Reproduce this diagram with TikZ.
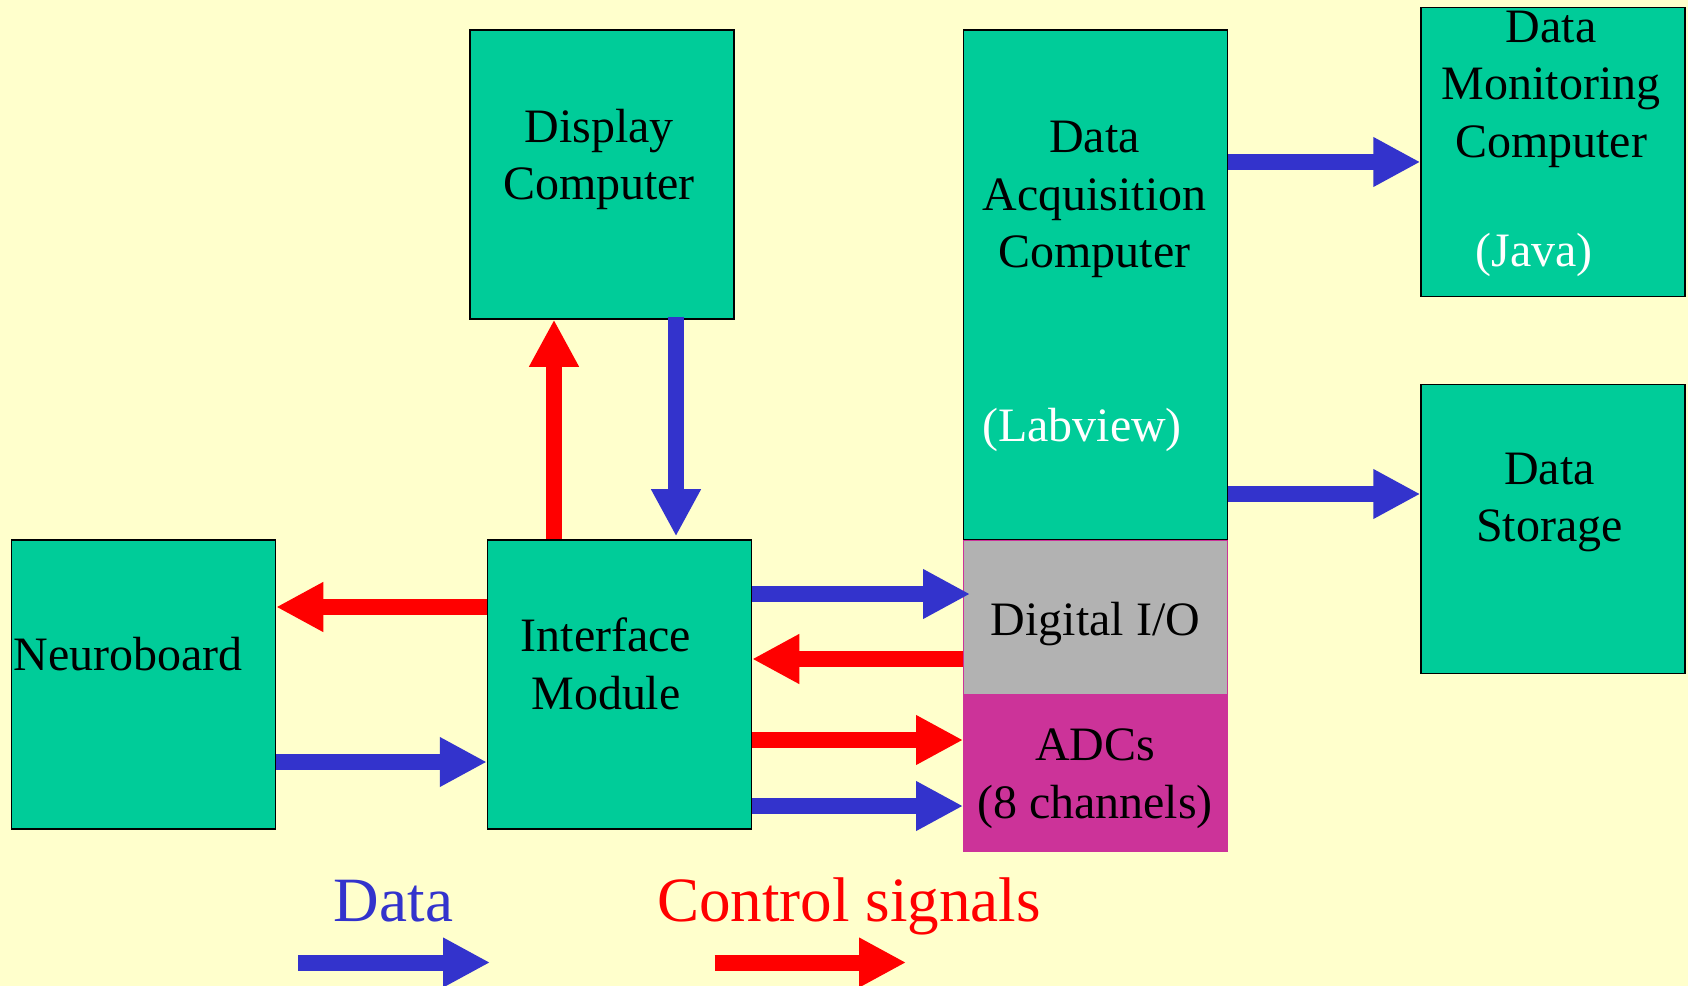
\documentclass[tikz,border=0pt]{standalone}
\usepackage{fontspec}
\setmainfont{Liberation Serif}
\usetikzlibrary{arrows.meta}
\definecolor{bgyellow}{HTML}{FFFFCC}
\definecolor{boxgreen}{HTML}{00CC99}
\definecolor{diogray}{HTML}{B2B2B2}
\definecolor{adcpink}{HTML}{CC3399}
\definecolor{datablue}{HTML}{3333CC}
\definecolor{ctrlred}{HTML}{FF0000}
\tikzset{block/.style = {shape=rectangle,draw=black,line width=0.3mm,fill=boxgreen,minimum width=52.8mm,minimum height=57.8mm,inner sep=0pt}}
\tikzset{txt/.style = {font=\fontsize{27.3}{32.7}\selectfont,align=center,anchor=base,inner sep=0pt}}
\tikzset{legend/.style = {font=\fontsize{35.9}{40}\selectfont,anchor=base,inner sep=0pt}}
\tikzset{dataarrow/.style = {draw=datablue,line width=3.2mm,-{Triangle[width=9.4mm,length=9.4mm]}}}
\tikzset{ctrlarrow/.style = {draw=ctrlred,line width=3.2mm,-{Triangle[width=9.4mm,length=9.4mm]}}}

\begin{document}
\begin{tikzpicture}[x=0.2mm,y=-0.2mm]
            \fill[bgyellow] (0,0) rectangle (1688,986);
            \useasboundingbox (0,0) rectangle (1688,986);

            % Blocks
            \node[block] (disp) at (602,174.5) {};
            \node[block,minimum height=102mm] (daq) at (1095.5,285) {};
            \node[block] (dmc) at (1553,152) {};
            \node[block] (store) at (1553,529) {};
            \node[block] (nb) at (143.5,684.5) {};
            \node[block] (im) at (619.5,684.5) {};
            \node[block,fill=diogray,draw=adcpink,line width=0.2mm,minimum height=30.8mm] (dio) at (1095.5,617) {};
            \node[block,fill=adcpink,draw=adcpink,line width=0.2mm,minimum height=31.4mm] (adc) at (1095.5,772.5) {};

            % Texts (base = last line)
            \node[txt] (displ) at (599,200) {Display\\Computer};
            \node[txt] (daql) at (1094.5,267.7) {Data\\Acquisition\\Computer};
            \node[txt,text=white] (daqsw) at (1082,441) {(Labview)};
            \node[txt] (dmcl) at (1551,157.3) {Data\\Monitoring\\Computer};
            \node[txt,text=white] (dmcsw) at (1534,266.7) {(Java)};
            \node[txt] (storel) at (1549.5,541.7) {Data\\Storage};
            \node[txt] (nbl) at (128,670) {Neuroboard};
            \node[txt] (iml) at (606,709.3) {Interface\\Module};
            \node[txt] (diol) at (1095.5,635) {Digital I/O};
            \node[txt] (adcl) at (1095,818.3) {ADCs\\(8 channels)};

            % Arrows
            % neuroboard
            \draw[dataarrow] (nb.east |- 0,762) -- (im.west |- 0,762);

            % interface module
            \draw[ctrlarrow] (im.west |- 0,607) -- (nb.east |- 0,607);
            \draw[ctrlarrow] (im.north -| 554,0) -- (disp.south -| 554,0);
            \draw[dataarrow] (im.east |- 0,594) -- ([xshift=1.4mm]dio.west |- 0,594);
            \draw[ctrlarrow] (im.east |- 0,740) -- (adc.west |- 0,740);
            \draw[dataarrow] (im.east |- 0,806) -- (adc.west |- 0,806);

            % display computer
            \draw[dataarrow] ([yshift=0.6mm]disp.south -| 676,0) -- ([yshift=0.6mm]im.north -| 676,0);

            % digital i/o
            \draw[ctrlarrow] (dio.west |- 0,659) -- (im.east |- 0,659);

            % data acquisition computer
            \draw[dataarrow] (daq.east |- 0,162) -- (dmc.west |- 0,162);
            \draw[dataarrow] (daq.east |- 0,494) -- (store.west |- 0,494);

            % Legend
            \node[legend,text=datablue] (lgdata) at (393.5,921.7) {Data};
            \node[legend,text=ctrlred] (lgctrl) at (849,921.7) {Control signals};
            \coordinate (d0) at (298,962.5);
            \coordinate (d1) at (490,962.5);
            \coordinate (c0) at (714.5,962.5);
            \coordinate (c1) at (906,962.5);
            \draw[dataarrow] (d0) -- (d1);
            \draw[ctrlarrow] (c0) -- (c1);

        \end{tikzpicture}
\end{document}
